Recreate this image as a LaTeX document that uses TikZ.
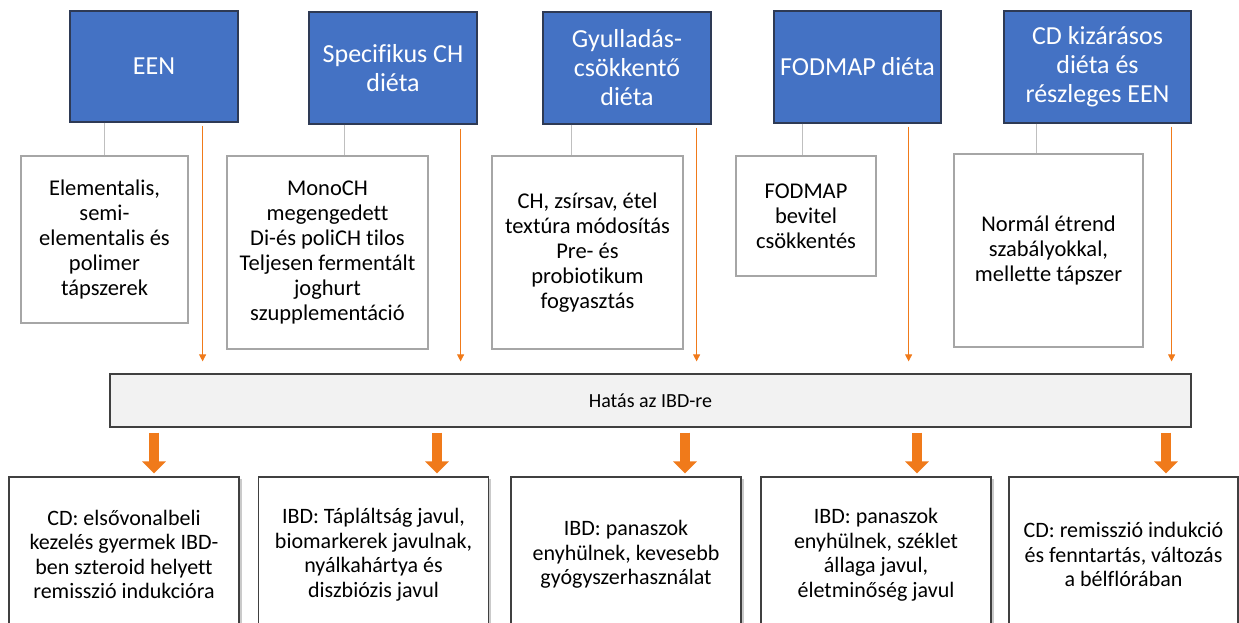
\documentclass[tikz,border=0pt]{standalone}
\usepackage{fontspec}
\setmainfont{Carlito}[Ligatures=NoCommon]
\usetikzlibrary{arrows.meta,shadows}
\definecolor{dblue}{HTML}{4472C4}
\definecolor{dborder}{HTML}{2E3A55}
\definecolor{gborder}{HTML}{A6A6A6}
\definecolor{gline}{HTML}{BFBFBF}
\definecolor{orng}{HTML}{F07A1A}
\definecolor{barfill}{HTML}{F2F2F2}
\definecolor{dgray}{HTML}{404040}
\tikzset{
  bluebox/.style={draw=dborder, line width=1.2pt, fill=dblue, text=white, align=center, inner sep=0pt,
    font=\fontsize{26}{29}\selectfont},
  whitebox/.style={draw=gborder, line width=1.3pt, fill=white, align=center, inner sep=0pt,
    font=\fontsize{22.5}{25}\selectfont},
  conn/.style={draw=gline, line width=1.2pt},
  thinarrow/.style={draw=orng, line width=0.8pt, -{Triangle[width=7pt,length=7pt]}},
  bararrow/.style={draw=orng, line width=10pt, -{Triangle[width=23pt,length=12pt]}},
  barbox/.style={draw=dgray, line width=1.2pt, fill=barfill, inner sep=0pt, font=\fontsize{20}{22}\selectfont},
  resbox/.style={draw=dgray, line width=1.2pt, fill=white, align=center, inner sep=0pt,
    minimum width=230pt, minimum height=155pt, font=\fontsize{22}{24.5}\selectfont,
    drop shadow={shadow xshift=2.5pt, shadow yshift=-2pt, opacity=0.35, fill=black!60}}
}
\begin{document}
\begin{tikzpicture}[x=1pt,y=-1pt]
\useasboundingbox (0,0) rectangle (1239,623);
% top blue boxes
\node[bluebox, minimum width=168pt, minimum height=111pt] (b1) at (154,66.5) {EEN};
\node[bluebox, minimum width=168pt, minimum height=112pt] (b2) at (393,68) {Specifikus CH\\diéta};
\node[bluebox, minimum width=168pt, minimum height=112pt] (b3) at (627,68) {Gyulladás-\\csökkentő\\diéta};
\node[bluebox, minimum width=167pt, minimum height=112pt] (b4) at (857.5,67) {FODMAP diéta};
\node[bluebox, minimum width=187pt, minimum height=112pt] (b5) at (1097.5,67) {CD kizárásos\\diéta és\\részleges EEN};
% white boxes
\node[whitebox, minimum width=167pt, minimum height=167pt] (w1) at (104.5,239.5) {Elementalis,\\semi-\\elementalis és\\polimer\\tápszerek};
\node[whitebox, minimum width=201pt, minimum height=193pt] (w2) at (327.5,252.5) {MonoCH\\megengedett\\Di-és poliCH tilos\\Teljesen fermentált\\joghurt\\szupplementáció};
\node[whitebox, minimum width=191pt, minimum height=193pt] (w3) at (587.5,252.5) {CH, zsírsav, étel\\textúra módosítás\\Pre- és\\probiotikum\\fogyasztás};
\node[whitebox, minimum width=140pt, minimum height=120pt] (w4) at (806,216) {FODMAP\\bevitel\\csökkentés};
\node[whitebox, minimum width=189pt, minimum height=193pt] (w5) at (1048.5,250.5) {Normál étrend\\szabályokkal,\\mellette tápszer};
% connectors blue -> white
\coordinate (c1) at ([xshift=35pt]b1.south west);
\coordinate (c2) at ([xshift=36pt]b2.south west);
\coordinate (c3) at ([xshift=29pt]b3.south west);
\coordinate (c4) at ([xshift=29pt]b4.south west);
\coordinate (c5) at ([xshift=33pt]b5.south west);
\draw[conn] (c1) -- (c1 |- w1.north);
\draw[conn] (c2) -- (c2 |- w2.north);
\draw[conn] (c3) -- (c3 |- w3.north);
\draw[conn] (c4) -- (c4 |- w4.north);
\draw[conn] (c5) -- (c5 |- w5.north);
% bar
\node[barbox, minimum width=1081pt, minimum height=53pt] (bar) at (650.5,400.5) {Hatás az IBD-re};
% thin orange arrows
\coordinate (t1) at ([xshift=-36pt,yshift=-3pt]b1.south east);
\coordinate (t2) at ([xshift=-17pt,yshift=-4pt]b2.south east);
\coordinate (t3) at ([xshift=-15pt,yshift=-3pt]b3.south east);
\coordinate (t4) at ([xshift=-33pt,yshift=-3pt]b4.south east);
\coordinate (t5) at ([xshift=-20pt,yshift=-3pt]b5.south east);
\foreach \t in {t1,t2,t3,t4,t5}{
  \draw[thinarrow] (\t) -- ([yshift=12pt]\t |- bar.north);
}
% result boxes
\node[resbox] (r1) at (124,554.5) {CD: elsővonalbeli\\kezelés gyermek IBD-\\ben szteroid helyett\\remisszió indukcióra};
\node[resbox] (r2) at (373.5,554.5) {IBD: Tápláltság javul,\\biomarkerek javulnak,\\nyálkahártya és\\diszbiózis javul};
\node[resbox] (r3) at (626,554.5) {IBD: panaszok\\enyhülnek, kevesebb\\gyógyszerhasználat};
\node[resbox] (r4) at (876,554.5) {IBD: panaszok\\enyhülnek, széklet\\állaga javul,\\életminőség javul};
\node[resbox, minimum width=229pt] (r5) at (1123.5,554.5) {CD: remisszió indukció\\és fenntartás, változás\\a bélflórában};
% thick orange arrows
\coordinate (a1) at ([xshift=30pt]r1.north);
\coordinate (a2) at ([xshift=63.5pt]r2.north);
\coordinate (a3) at ([xshift=59pt]r3.north);
\coordinate (a4) at ([xshift=41pt]r4.north);
\coordinate (a5) at ([xshift=42.5pt]r5.north);
\foreach \a in {a1,a2,a3,a4,a5}{
  \draw[bararrow] ([yshift=-5pt]\a |- bar.south) -- ([yshift=3pt]\a);
}
\end{tikzpicture}
\end{document}
